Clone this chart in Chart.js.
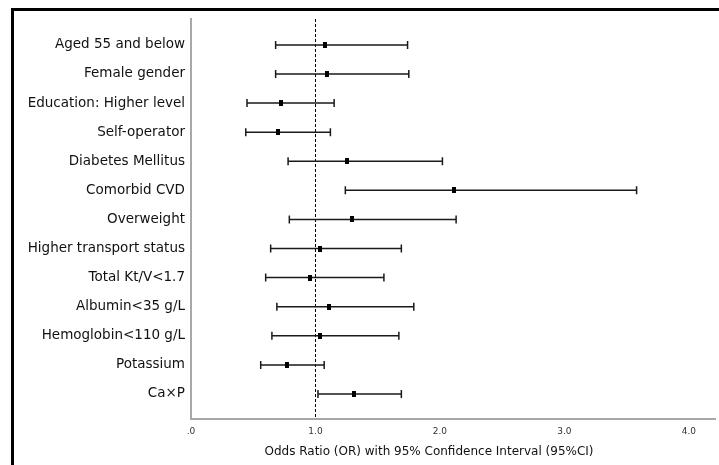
<!DOCTYPE html>
<html>
<head>
<meta charset="utf-8">
<script src="https://cdn.jsdelivr.net/npm/chart.js@4"></script>
<style>
  html, body { margin: 0; padding: 0; background: #fff; }
  #wrap { width: 719px; height: 465px; }
</style>
</head>
<body>
<div id="wrap"><canvas id="forest"></canvas></div>
<script>
// factors, top to bottom
const factors = [
    'Aged 55 and below', 'Female gender', 'Education: Higher level', 'Self-operator',
    'Diabetes Mellitus', 'Comorbid CVD', 'Overweight', 'Higher transport status',
    'Total Kt/V<1.7', 'Albumin<35 g/L', 'Hemoglobin<110 g/L', 'Potassium', 'Ca\u00d7P'
];
const oddsRatio = [1.08, 1.09, 0.72, 0.70, 1.25, 2.11, 1.29, 1.04, 0.96, 1.11, 1.04, 0.77, 1.31];
const ciLower   = [0.68, 0.68, 0.45, 0.44, 0.78, 1.24, 0.79, 0.64, 0.60, 0.69, 0.65, 0.56, 1.02];
const ciUpper   = [1.74, 1.75, 1.15, 1.12, 2.02, 3.58, 2.13, 1.69, 1.55, 1.79, 1.67, 1.07, 1.69];
const xTickValues = [0, 1, 2, 3, 4];
const xTickLabels = ['.0', '1.0', '2.0', '3.0', '4.0'];
const axisTitle = 'Odds Ratio (OR) with 95% Confidence Interval (95%CI)';

// small black rectangle marker
const marker = document.createElement('canvas');
marker.width = 4; marker.height = 6;
const mctx = marker.getContext('2d');
mctx.fillStyle = '#000';
mctx.fillRect(0, 0, 4, 6);

// frame, CI whiskers, reference line and axis title
const forestPlugin = {
    id: 'forest',
    beforeDraw(chart) {
        const ctx = chart.ctx;
        ctx.save();
        ctx.fillStyle = '#000';
        ctx.fillRect(11, 8, 719 - 11, 3);
        ctx.fillRect(11, 8, 3, 465 - 8);
        ctx.restore();
    },
    beforeDatasetsDraw(chart) {
        const ctx = chart.ctx;
        const xs = chart.scales.x, ys = chart.scales.y;
        const area = chart.chartArea;
        ctx.save();
        // reference line at OR = 1
        ctx.strokeStyle = '#000';
        ctx.lineWidth = 1;
        ctx.setLineDash([3, 2]);
        const x1 = Math.round(xs.getPixelForValue(1)) + 0.5;
        ctx.beginPath();
        ctx.moveTo(x1, area.top);
        ctx.lineTo(x1, area.bottom);
        ctx.stroke();
        ctx.setLineDash([]);
        // whiskers
        ctx.strokeStyle = '#1a1a1a';
        ctx.lineWidth = 1.5;
        factors.forEach((f, i) => {
            const y = ys.getPixelForValue(i);
            const xl = xs.getPixelForValue(ciLower[i]);
            const xh = xs.getPixelForValue(ciUpper[i]);
            ctx.beginPath();
            ctx.moveTo(xl, y); ctx.lineTo(xh, y);
            ctx.moveTo(xl, y - 4); ctx.lineTo(xl, y + 4);
            ctx.moveTo(xh, y - 4); ctx.lineTo(xh, y + 4);
            ctx.stroke();
        });
        ctx.restore();
    },
    afterDraw(chart) {
        const ctx = chart.ctx;
        ctx.save();
        ctx.fillStyle = '#111';
        ctx.font = '12px "DejaVu Sans"';
        ctx.textAlign = 'center';
        ctx.textBaseline = 'middle';
        ctx.fillText(axisTitle, 429, 452);
        ctx.restore();
    }
};

new Chart(document.getElementById('forest'), {
    type: 'scatter',
    data: {
        datasets: [{
            data: oddsRatio.map((v, i) => ({ x: v, y: i })),
            pointStyle: marker,
            pointRadius: 3,
            pointHoverRadius: 3
        }]
    },
    options: {
        responsive: true,
        maintainAspectRatio: false,
        animation: false,
        layout: { padding: { top: 19, right: 0, left: 0, bottom: 0 } },
        plugins: { legend: { display: false }, tooltip: { enabled: false } },
        scales: {
            x: {
                type: 'linear',
                min: 0,
                max: 4.21,
                grid: { display: false, drawTicks: false },
                border: { display: true, color: '#a8a8a8', width: 2 },
                afterBuildTicks: axis => { axis.ticks = xTickValues.map(v => ({ value: v })); },
                afterFit: axis => { axis.height = 46; },
                ticks: {
                    padding: 7,
                    color: '#333',
                    font: { family: 'DejaVu Sans', size: 9 },
                    callback: v => xTickLabels[xTickValues.indexOf(v)]
                }
            },
            y: {
                type: 'linear',
                reverse: true,
                min: -0.89,
                max: 12.86,
                grid: { display: false, drawTicks: false },
                border: { display: true, color: '#a8a8a8', width: 2 },
                afterBuildTicks: axis => { axis.ticks = factors.map((f, i) => ({ value: i })); },
                afterFit: axis => { axis.width = 191; },
                ticks: {
                    padding: 6,
                    color: '#111',
                    font: { family: 'DejaVu Sans', size: 13.5 },
                    callback: v => factors[v]
                }
            }
        }
    },
    plugins: [forestPlugin]
});
</script>
</body>
</html>
